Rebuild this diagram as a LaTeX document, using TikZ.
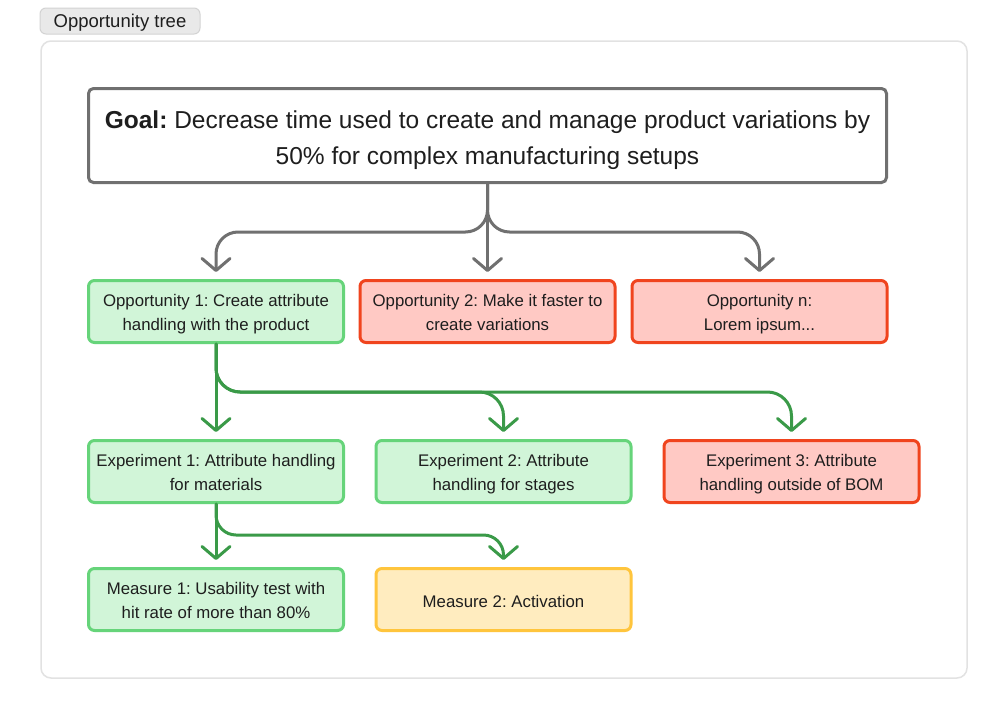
\documentclass[tikz,border=0pt]{standalone}
\usepackage{fontspec}
\setmainfont{Liberation Sans}
\usetikzlibrary{arrows.meta}
\frenchspacing
\definecolor{txt}{HTML}{1E1E1E}
\definecolor{grayln}{HTML}{707070}
\definecolor{greenln}{HTML}{3A9A48}
\definecolor{gstroke}{HTML}{66D47A}
\definecolor{gfill}{HTML}{D1F5D8}
\definecolor{rstroke}{HTML}{F0441E}
\definecolor{rfill}{HTML}{FFC9C4}
\definecolor{ystroke}{HTML}{FFC53D}
\definecolor{yfill}{HTML}{FFECBF}
\definecolor{framec}{HTML}{E2E2E2}
\definecolor{tagfill}{HTML}{E9E9E9}
\definecolor{tagline}{HTML}{D3D3D3}
\newcommand{\mydesc}{\vphantom{gy}}
\tikzset{
  box/.style={draw, line width=3pt, rounded corners=6pt, minimum width=255pt, minimum height=62pt, inner sep=0pt},
  gbox/.style={box, draw=gstroke, fill=gfill},
  rbox/.style={box, draw=rstroke, fill=rfill},
  ybox/.style={box, draw=ystroke, fill=yfill},
  lbl/.style={align=center, text=txt, font=\fontsize{16.8}{24}\selectfont, inner sep=0pt},
  conn/.style={line width=3pt, line cap=round, line join=round,
    -{Straight Barb[length=12pt,width=28pt,round]}, shorten >=7pt},
  gconn/.style={conn, draw=greenln},
  grconn/.style={conn, draw=grayln},
}
\begin{document}
\begin{tikzpicture}[x=1pt,y=-1pt]
\useasboundingbox (0,0) rectangle (1008,720);
\fill[white] (0,0) rectangle (1008,720);
% frame
\node[draw=framec, line width=1.5pt, rounded corners=10pt, minimum width=926pt, minimum height=637pt, inner sep=0pt] (frame) at (504,359.5) {};
% tag
\node[draw=tagline, fill=tagfill, line width=1pt, rounded corners=6pt, minimum width=160pt, minimum height=26pt, inner sep=0pt] (tag) at (120,21) {};
\node[lbl, font=\fontsize{18.5}{20}\selectfont] (tagt) at ([yshift=-1.5pt]tag.center) {Opportunity tree};
% goal
\node[draw=grayln, line width=3pt, rounded corners=5pt, fill=white, minimum width=798pt, minimum height=94pt, inner sep=0pt] (goal) at (487.5,135.5) {};
\node[lbl, font=\fontsize{24.5}{36}\selectfont] (goalt) at ([yshift=-4.5pt]goal.center)
  {\textbf{Goal:} Decrease time used to create and manage product variations by\\50\% for complex manufacturing setups};
% row 1
\node[gbox] (o1) at (216,311.5) {};
\node[rbox] (o2) at (487.5,311.5) {};
\node[rbox] (on) at (759.5,311.5) {};
\node[lbl] (o1t) at ([yshift=-3pt]o1.center) {Opportunity 1: Create attribute\\handling with the product\mydesc};
\node[lbl] (o2t) at ([yshift=-3pt]o2.center) {Opportunity 2: Make it faster to\\create variations\mydesc};
\node[lbl] (ont) at ([yshift=-3pt]on.center) {Opportunity n:\\Lorem ipsum...\mydesc};
% row 2
\node[gbox] (e1) at (216,471.5) {};
\node[gbox] (e2) at (503.5,471.5) {};
\node[rbox] (e3) at (791.5,471.5) {};
\node[lbl] (e1t) at ([yshift=-3pt]e1.center) {Experiment 1: Attribute handling\\for materials\mydesc};
\node[lbl] (e2t) at ([yshift=-3pt]e2.center) {Experiment 2: Attribute\\handling for stages\mydesc};
\node[lbl] (e3t) at ([yshift=-3pt]e3.center) {Experiment 3: Attribute\\handling outside of BOM\mydesc};
% row 3
\node[gbox] (m1) at (216,599.5) {};
\node[ybox] (m2) at (503.5,599.5) {};
\node[lbl] (m1t) at ([yshift=-3pt]m1.center) {Measure 1: Usability test with\\hit rate of more than 80\%\mydesc};
\node[lbl] (m2t) at ([yshift=-1.5pt]m2.center) {Measure 2: Activation};
% gray connectors
\draw[grconn] (goal.south) -- (o2.north);
\draw[grconn, rounded corners=22pt] (goal.south) -- (487.5,232) -- (216,232) -- (o1.north);
\draw[grconn, rounded corners=22pt] (goal.south) -- (487.5,232) -- (759.5,232) -- (on.north);
% green connectors
\draw[gconn] (o1.south) -- (e1.north);
\draw[gconn, rounded corners=24pt] (o1.south) -- (216,392) -- (503.5,392) -- (e2.north);
\draw[gconn, rounded corners=24pt] (o1.south) -- (216,392) -- (791.5,392) -- (e3.north);
\draw[gconn] (e1.south) -- (m1.north);
\draw[gconn, rounded corners=20pt] (e1.south) -- (216,535) -- (503.5,535) -- (m2.north);
\end{tikzpicture}
\end{document}
